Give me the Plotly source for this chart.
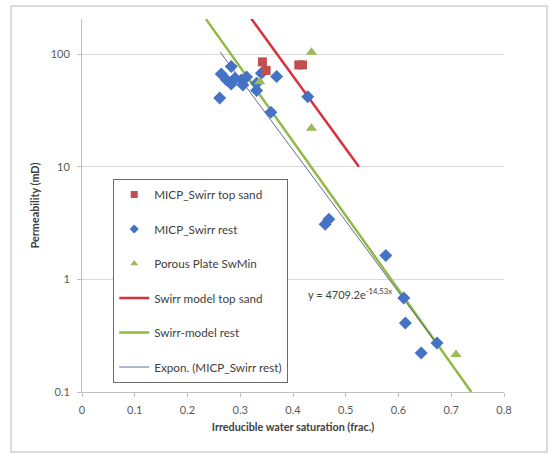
import plotly.graph_objects as go

# ---------------- data ----------------
top_sand_x = [0.342, 0.349, 0.411, 0.418]
top_sand_y = [85.5, 71.8, 80.4, 80.4]

rest_x = [0.261, 0.264, 0.283, 0.274, 0.283, 0.290, 0.302, 0.305, 0.312, 0.331, 0.331,
          0.340, 0.369, 0.358, 0.428, 0.461, 0.468, 0.576, 0.610, 0.613, 0.643, 0.673]
rest_y = [40.9, 66.9, 78.0, 59.1, 54.5, 61.2, 59.1, 53.4, 62.9, 55.3, 47.7,
          67.8, 63.5, 30.5, 42.0, 3.09, 3.42, 1.63, 0.684, 0.410, 0.222, 0.273]

plate_x = [0.435, 0.435, 0.337, 0.709]
plate_y = [104.0, 22.0, 57.0, 0.215]

model_top_x = [0.320, 0.525]
model_top_y = [210.0, 10.0]

model_rest_x = [0.235, 0.738]
model_rest_y = [205.0, 0.1]

expon_x = [0.262, 0.673]
expon_y = [104.6, 0.267]

x_ticks = [0, 0.1, 0.2, 0.3, 0.4, 0.5, 0.6, 0.7, 0.8]
x_tick_text = ["0", "0.1", "0.2", "0.3", "0.4", "0.5", "0.6", "0.7", "0.8"]
y_ticks = [0.1, 1, 10, 100]
y_tick_text = ["0.1", "1", "10", "100"]

names = ["MICP_Swirr top sand", "MICP_Swirr rest", "Porous Plate SwMin",
         "Swirr model top sand", "Swirr-model rest", "Expon. (MICP_Swirr rest)"]

RED = "#C0504D"
RED_LINE = "#D9303E"
BLUE = "#4472C4"
GREEN = "#9BBB59"
GREEN_LINE = "#92B945"
TREND = "#3A4A7A"
FONT = "Lato"

fig = go.Figure()

# lines
fig.add_trace(go.Scatter(x=model_top_x, y=model_top_y, mode="lines",
                         line=dict(color=RED_LINE, width=2.5), showlegend=False, hoverinfo="skip"))
fig.add_trace(go.Scatter(x=model_rest_x, y=model_rest_y, mode="lines",
                         line=dict(color=GREEN_LINE, width=2.5), showlegend=False, hoverinfo="skip"))
fig.add_trace(go.Scatter(x=expon_x, y=expon_y, mode="lines",
                         line=dict(color=TREND, width=0.8), showlegend=False, hoverinfo="skip"))
# markers
fig.add_trace(go.Scatter(x=rest_x, y=rest_y, mode="markers",
                         marker=dict(symbol="diamond", size=10, color=BLUE), showlegend=False))
fig.add_trace(go.Scatter(x=plate_x, y=plate_y, mode="markers",
                         marker=dict(symbol="triangle-up", size=10, color=GREEN), showlegend=False))
fig.add_trace(go.Scatter(x=top_sand_x, y=top_sand_y, mode="markers",
                         marker=dict(symbol="square", size=9, color=RED), showlegend=False))

# legend-only entries (smaller symbols like the reference)
leg_specs = [
    dict(mode="markers", marker=dict(symbol="square", size=7, color=RED)),
    dict(mode="markers", marker=dict(symbol="diamond", size=7, color=BLUE)),
    dict(mode="markers", marker=dict(symbol="triangle-up", size=7, color=GREEN)),
    dict(mode="lines", line=dict(color=RED_LINE, width=2.5)),
    dict(mode="lines", line=dict(color=GREEN_LINE, width=2.5)),
    dict(mode="lines", line=dict(color=TREND, width=0.8)),
]
for i, (nm, spec) in enumerate(zip(names, leg_specs)):
    fig.add_trace(go.Scatter(x=[None], y=[None], name=nm, legendgroup=f"g{i}",
                             showlegend=True, **spec))

fig.add_annotation(x=0.425, y=-0.127, xref="x", yref="y",
                   text="y = 4709.2e<sup>-14,53x</sup>", showarrow=False,
                   xanchor="left", yanchor="middle",
                   font=dict(family=FONT, size=11, color="#404040"))

# outer chart border
fig.add_shape(type="rect", xref="paper", yref="paper",
              x0=-0.168, x1=1.102, y0=-0.161, y1=1.035,
              line=dict(color="#d0d0d0", width=1.5))

fig.update_layout(
    width=549, height=455,
    margin=dict(l=82, r=45, t=19, b=63),
    paper_bgcolor="white", plot_bgcolor="white",
    font=dict(family=FONT, size=11, color="#595959"),
    showlegend=True,
    legend=dict(x=0.074, y=0.571, xanchor="left", yanchor="top",
                bgcolor="white", bordercolor="#6b6b6b", borderwidth=1,
                font=dict(family=FONT, size=11.7, color="#404040"),
                tracegroupgap=15.5, itemwidth=30),
    xaxis=dict(range=[0, 0.8], tickvals=x_ticks, ticktext=x_tick_text,
               showgrid=False, zeroline=False, showline=True,
               linecolor="#bfbfbf", linewidth=1, ticks="outside", ticklen=4,
               tickcolor="#bfbfbf", ticklabelstandoff=4,
               title=dict(text="<b>Irreducible water saturation (frac.)</b>",
                          font=dict(family=FONT, size=10.8, color="#404040"), standoff=8)),
    yaxis=dict(type="log", range=[-1, 2.313], tickvals=y_ticks, ticktext=y_tick_text,
               showgrid=True, gridcolor="#d9d9d9", gridwidth=1, zeroline=False,
               showline=True, linecolor="#bfbfbf", linewidth=1, ticks="outside",
               ticklen=4, tickcolor="#bfbfbf", ticklabelstandoff=5,
               title=dict(text="<b>Permeability (mD)</b>",
                          font=dict(family=FONT, size=10.8, color="#404040"), standoff=8)),
)

fig.write_html("out.html")
